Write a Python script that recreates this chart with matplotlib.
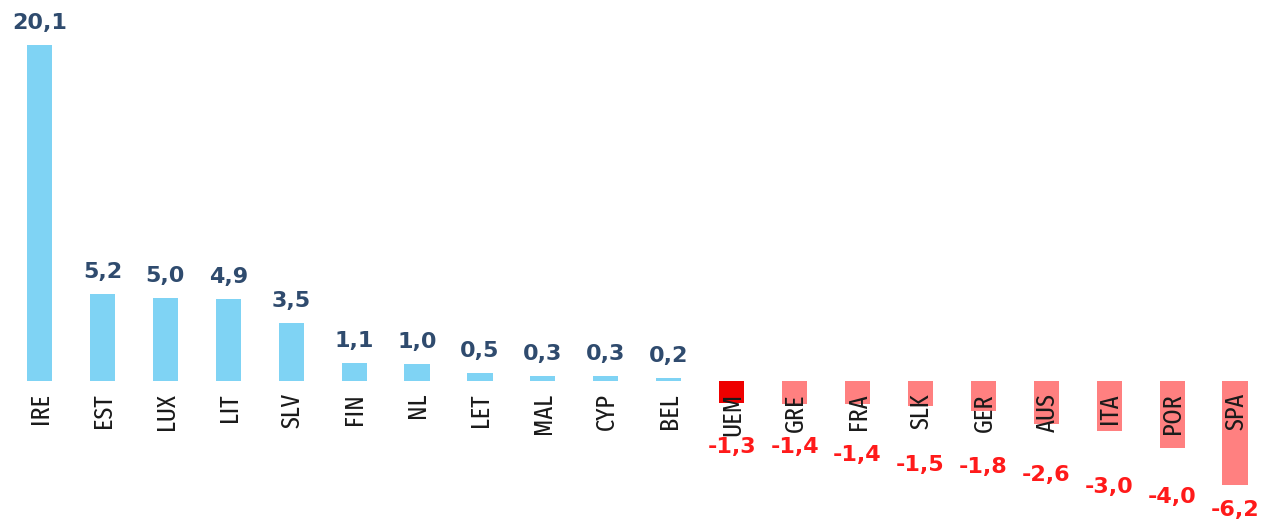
import matplotlib
matplotlib.use("Agg")
import matplotlib.pyplot as plt
from matplotlib import font_manager

# Economic indicator by euro-area country (percent)
countries = ["IRE", "EST", "LUX", "LIT", "SLV", "FIN", "NL", "LET", "MAL", "CYP", "BEL",
             "UEM", "GRE", "FRA", "SLK", "GER", "AUS", "ITA", "POR", "SPA"]
values = [20.1, 5.2, 5.0, 4.9, 3.5, 1.1, 1.0, 0.5, 0.3, 0.3, 0.2,
          -1.3, -1.4, -1.4, -1.5, -1.8, -2.6, -3.0, -4.0, -6.2]
highlight = "UEM"

# vertical gap (pixels) between the end of each negative bar and its label centre
neg_label_gap = [44, 43, 51, 59, 56, 51, 56, 49, 25]

POS_COLOR = "#7FD3F4"
NEG_COLOR = "#FF8080"
HI_COLOR = "#EE0000"
POS_TEXT = "#2F4B6E"
NEG_TEXT = "#FF1A1A"

names = {f.name for f in font_manager.fontManager.ttflist}
cat_font = next((n for n in ("Fira Sans Extra Condensed", "PT Sans Narrow", "Roboto Condensed")
                 if n in names), "DejaVu Sans")

fig = plt.figure(figsize=(12.64, 5.19), dpi=100)
ax = fig.add_axes([0, 0, 1, 1])

x = list(range(len(countries)))
colors = []
for c, v in zip(countries, values):
    if c == highlight:
        colors.append(HI_COLOR)
    elif v >= 0:
        colors.append(POS_COLOR)
    else:
        colors.append(NEG_COLOR)

ax.bar(x, values, width=0.40, color=colors, zorder=1)

# value labels
neg_i = 0
for xi, v in zip(x, values):
    txt = f"{v:.1f}".replace(".", ",")
    if v >= 0:
        ax.annotate(txt, (xi, v), xytext=(0, 22), textcoords="offset pixels",
                    ha="center", va="center", fontsize=16, fontweight="bold",
                    color=POS_TEXT, family="DejaVu Sans")
    else:
        ax.annotate(txt, (xi, v), xytext=(0, -neg_label_gap[neg_i]), textcoords="offset pixels",
                    ha="center", va="center", fontsize=16, fontweight="bold",
                    color=NEG_TEXT, family="DejaVu Sans")
        neg_i += 1

# category labels, rotated, just under the zero line
for xi, c in zip(x, countries):
    ax.annotate(c, (xi, 0), xytext=(1, -12), textcoords="offset pixels",
                rotation=90, ha="center", va="top", fontsize=19, fontweight="normal",
                color="#1A1A1A", family=cat_font, zorder=3)

ax.set_xlim(-0.628, 19.46)
ax.set_ylim(-8.26, 22.81)
ax.axis("off")

fig.savefig("out.png", dpi=100)
